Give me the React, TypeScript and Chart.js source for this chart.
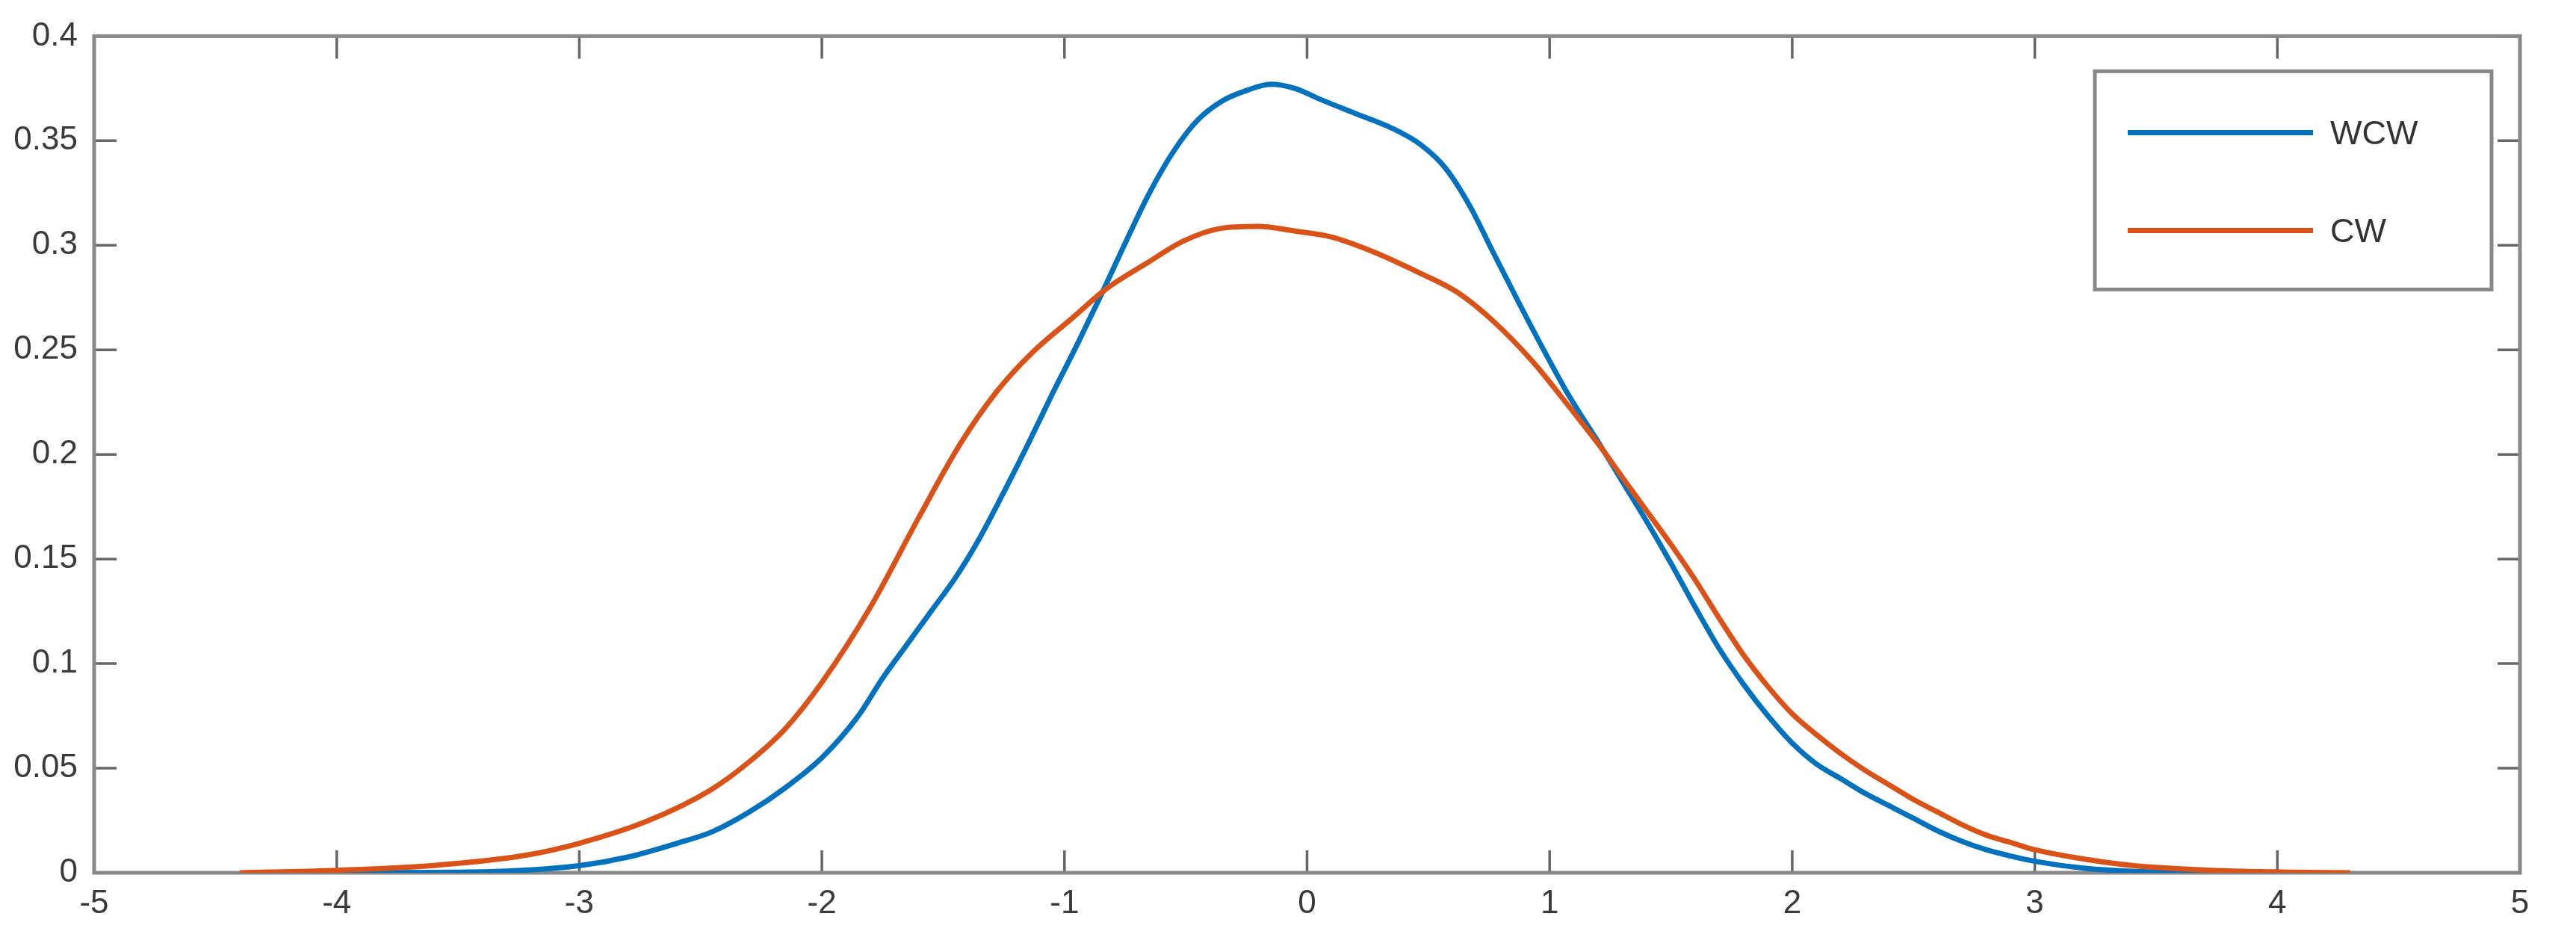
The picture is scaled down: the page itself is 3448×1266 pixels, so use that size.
import React, { useEffect, useRef } from "react";
import { Chart, registerables } from "chart.js";

Chart.register(...registerables);

// ---- Data ----
const seriesNames = ["WCW", "CW"];
const seriesColors = ["#0072BD", "#D95319"];

const wcwX = [
  -4.0, -3.6, -3.3, -3.0, -2.8, -2.6, -2.45, -2.3, -2.15, -2.0, -1.85, -1.75,
  -1.65, -1.55, -1.45, -1.35, -1.25, -1.15, -1.05, -0.95, -0.85, -0.75, -0.65,
  -0.55, -0.45, -0.35, -0.25, -0.15, -0.05, 0.05, 0.2, 0.35, 0.47, 0.57, 0.67,
  0.77, 0.88, 0.98, 1.08, 1.2, 1.3, 1.4, 1.5, 1.6, 1.7, 1.8, 1.9, 2.0, 2.1,
  2.2, 2.3, 2.4, 2.5, 2.6, 2.7, 2.8, 2.9, 3.0, 3.2, 3.4, 3.6, 3.8,
];
const wcwY = [
  0, 0.0002, 0.0008, 0.0034, 0.0075, 0.014, 0.0197, 0.029, 0.0407, 0.055,
  0.075, 0.093, 0.109, 0.125, 0.141, 0.16, 0.182, 0.205, 0.229, 0.252, 0.276,
  0.301, 0.325, 0.345, 0.36, 0.369, 0.374, 0.377, 0.375, 0.37, 0.363, 0.356,
  0.348, 0.337, 0.319, 0.296, 0.271, 0.249, 0.228, 0.206, 0.187, 0.168, 0.148,
  0.127, 0.107, 0.09, 0.075, 0.062, 0.052, 0.045, 0.038, 0.032, 0.026, 0.02,
  0.015, 0.011, 0.008, 0.0055, 0.0022, 0.0007, 0.0002, 0,
];

const cwX = [
  -4.4, -4.0, -3.6, -3.23, -3.0, -2.72, -2.46, -2.3, -2.15, -2.0, -1.8, -1.6,
  -1.43, -1.28, -1.13, -0.97, -0.83, -0.66, -0.51, -0.36, -0.2, -0.05, 0.1,
  0.26, 0.46, 0.62, 0.77, 0.93, 1.08, 1.22, 1.3, 1.4, 1.5, 1.6, 1.7, 1.8, 1.9,
  2.0, 2.1, 2.2, 2.3, 2.4, 2.5, 2.6, 2.7, 2.8, 2.9, 3.0, 3.2, 3.4, 3.6, 3.8,
  4.0, 4.3,
];
const cwY = [
  0, 0.0012, 0.0035, 0.0082, 0.0141, 0.0247, 0.0395, 0.053, 0.069, 0.091,
  0.127, 0.17, 0.205, 0.23, 0.249, 0.265, 0.279, 0.2915, 0.302, 0.308,
  0.309, 0.3068, 0.304, 0.2975, 0.287, 0.2775, 0.2635, 0.2444, 0.2229, 0.202,
  0.189, 0.173, 0.157, 0.14, 0.1215, 0.104, 0.089, 0.076, 0.066, 0.057, 0.049,
  0.042, 0.035, 0.029, 0.023, 0.018, 0.0145, 0.011, 0.0066, 0.0035, 0.0019,
  0.0009, 0.0004, 0,
];

const xTickValues = [-5, -4, -3, -2, -1, 0, 1, 2, 3, 4, 5];
const xTickLabels = ["-5", "-4", "-3", "-2", "-1", "0", "1", "2", "3", "4", "5"];
const yTickValues = [0, 0.05, 0.1, 0.15, 0.2, 0.25, 0.3, 0.35, 0.4];
const yTickLabels = ["0", "0.05", "0.1", "0.15", "0.2", "0.25", "0.3", "0.35", "0.4"];

const FONT = '"Liberation Sans", Arial, Helvetica, sans-serif';
const W = 3448;
const H = 1266;

const axesPlugin = {
  id: "matlabAxes",
  beforeDatasetsDraw(chart: any) {
    const { ctx, chartArea, scales } = chart;
    const { left, right, top, bottom } = chartArea;
    const xs = scales.x;
    const ys = scales.y;
    const tickLen = 30;
    ctx.save();
    ctx.strokeStyle = "#666666";
    ctx.lineWidth = 3.5;
    ctx.beginPath();
    for (const v of xTickValues) {
      const px = xs.getPixelForValue(v);
      ctx.moveTo(px, bottom);
      ctx.lineTo(px, bottom - tickLen);
      ctx.moveTo(px, top);
      ctx.lineTo(px, top + tickLen);
    }
    for (const v of yTickValues) {
      const py = ys.getPixelForValue(v);
      ctx.moveTo(left, py);
      ctx.lineTo(left + tickLen, py);
      ctx.moveTo(right, py);
      ctx.lineTo(right - tickLen, py);
    }
    ctx.stroke();
    ctx.strokeStyle = "#888888";
    ctx.lineWidth = 5;
    ctx.strokeRect(left, top, right - left, bottom - top);
    ctx.restore();
  },
};

const legendPlugin = {
  id: "insideLegend",
  afterDraw(chart: any) {
    const { ctx, chartArea } = chart;
    const boxW = 531;
    const boxH = 292;
    const boxRight = chartArea.right - 38;
    const boxTop = chartArea.top + 47;
    const boxLeft = boxRight - boxW;
    ctx.save();
    ctx.fillStyle = "#ffffff";
    ctx.fillRect(boxLeft, boxTop, boxW, boxH);
    ctx.strokeStyle = "#888888";
    ctx.lineWidth = 5;
    ctx.strokeRect(boxLeft, boxTop, boxW, boxH);
    const rows = [82, 213];
    chart.data.datasets.forEach((ds: any, i: number) => {
      const y = boxTop + rows[i];
      ctx.strokeStyle = ds.borderColor;
      ctx.lineWidth = 7;
      ctx.lineCap = "butt";
      ctx.beginPath();
      ctx.moveTo(boxLeft + 44, y);
      ctx.lineTo(boxLeft + 292, y);
      ctx.stroke();
      ctx.fillStyle = "#333333";
      ctx.font = `45px ${FONT}`;
      ctx.textAlign = "left";
      ctx.textBaseline = "middle";
      ctx.fillText(ds.label, boxLeft + 315, y + 3);
    });
    ctx.restore();
  },
};

export default function App() {
  const canvasRef = useRef<HTMLCanvasElement | null>(null);

  useEffect(() => {
    const canvas = canvasRef.current;
    if (!canvas) return;
    const chart = new Chart(canvas, {
      type: "line",
      data: {
        datasets: [
          {
            label: seriesNames[0],
            data: wcwX.map((x, i) => ({ x, y: wcwY[i] })),
            borderColor: seriesColors[0],
            backgroundColor: seriesColors[0],
            borderWidth: 7,
            pointRadius: 0,
            cubicInterpolationMode: "monotone",
            fill: false,
            order: 2,
          },
          {
            label: seriesNames[1],
            data: cwX.map((x, i) => ({ x, y: cwY[i] })),
            borderColor: seriesColors[1],
            backgroundColor: seriesColors[1],
            borderWidth: 7,
            pointRadius: 0,
            cubicInterpolationMode: "monotone",
            fill: false,
            order: 1,
          },
        ],
      },
      options: {
        responsive: false,
        animation: false,
        devicePixelRatio: 1,
        layout: { padding: { left: 0, top: 41, right: W - 3373, bottom: 0 } },
        plugins: {
          legend: { display: false },
          tooltip: { enabled: false },
          title: { display: false },
        },
        scales: {
          x: {
            type: "linear",
            position: "bottom",
            min: -5,
            max: 5,
            afterBuildTicks: (scale: any) => {
              scale.ticks = xTickValues.map((v) => ({ value: v }));
            },
            afterFit: (scale: any) => {
              scale.height = H - 1168;
            },
            grid: { display: false, drawTicks: false },
            border: { display: false },
            ticks: {
              padding: 15,
              color: "#3a3a3a",
              font: { family: FONT, size: 44 },
              maxRotation: 0,
              autoSkip: false,
              callback: (v: any) => {
                const i = xTickValues.indexOf(Number(v));
                return i >= 0 ? xTickLabels[i] : "";
              },
            },
          },
          y: {
            type: "linear",
            position: "left",
            min: 0,
            max: 0.4,
            afterBuildTicks: (scale: any) => {
              scale.ticks = yTickValues.map((v) => ({ value: v }));
            },
            afterFit: (scale: any) => {
              scale.width = 126;
            },
            grid: { display: false, drawTicks: false },
            border: { display: false },
            ticks: {
              padding: 22,
              color: "#3a3a3a",
              font: { family: FONT, size: 44 },
              autoSkip: false,
              callback: (v: any) => {
                const i = yTickValues.findIndex((t) => Math.abs(t - Number(v)) < 1e-9);
                return i >= 0 ? yTickLabels[i] : "";
              },
            },
          },
        },
      } as any,
      plugins: [axesPlugin, legendPlugin],
    });
    return () => chart.destroy();
  }, []);

  return (
    <div style={{ position: "absolute", left: 0, top: 0, width: W, height: H, background: "#ffffff" }}>
      <canvas ref={canvasRef} width={W} height={H} style={{ width: W, height: H, display: "block" }} />
    </div>
  );
}
